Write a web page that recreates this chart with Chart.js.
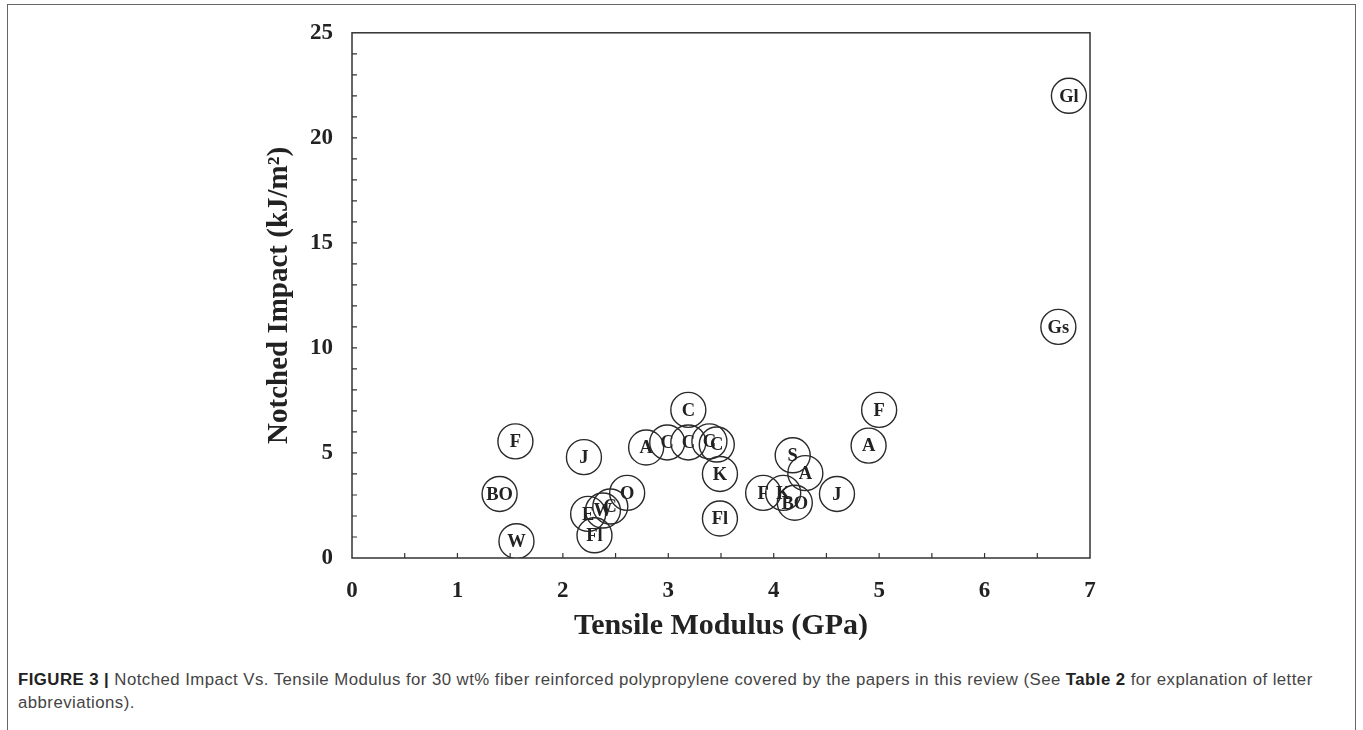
<!DOCTYPE html>
<html>
<head>
<meta charset="utf-8">
<script src="https://cdn.jsdelivr.net/npm/chart.js@4/dist/chart.umd.min.js"></script>
<style>
  html, body { margin: 0; padding: 0; background: #fff; width: 1363px; height: 730px; overflow: hidden; }
  #frame { position: absolute; left: 7px; top: 4px; width: 1347px; height: 760px; border: 1px solid #666; }
  #wrap { position: absolute; left: 0; top: 0; width: 1363px; height: 660px; }
  #caption { position: absolute; left: 18px; top: 668px; width: 1340px; font-family: "Liberation Sans", Arial, sans-serif;
             font-size: 16.8px; letter-spacing: 0.45px; line-height: 23px; color: #444; white-space: nowrap; }
  #caption b { color: #222; }
</style>
</head>
<body>
<div id="frame"></div>
<div id="wrap"><canvas id="impactChart"></canvas></div>
<div id="caption"><b>FIGURE 3 |</b> Notched Impact Vs. Tensile Modulus for 30 wt% fiber reinforced polypropylene covered by the papers in this review (See <b>Table 2</b> for explanation of letter<br>abbreviations).</div>
<script>
// fiber codes, as printed inside the circles
var labels  = ['Gl', 'Gs', 'F', 'A', 'J', 'S', 'A', 'F', 'K', 'BO', 'K', 'Fl', 'C', 'A', 'C', 'C', 'C', 'C',
               'O', 'C', 'W', 'E', 'Fl', 'J', 'F', 'BO', 'W'];
// tensile modulus (GPa)
var modulus = [6.8, 6.7, 5.0, 4.9, 4.6, 4.18, 4.3, 3.9, 4.09, 4.2, 3.49, 3.49, 3.19, 2.79, 2.99, 3.19, 3.39, 3.46,
               2.61, 2.45, 2.38, 2.24, 2.30, 2.2, 1.55, 1.40, 1.56];
// notched impact (kJ/m2)
var impact  = [22.0, 11.0, 7.05, 5.35, 3.05, 4.89, 4.04, 3.1, 3.1, 2.63, 4.0, 1.88, 7.05, 5.26, 5.5, 5.5, 5.55, 5.4,
               3.1, 2.45, 2.26, 2.1, 1.08, 4.8, 5.55, 3.05, 0.8];

var xTicks = [0, 1, 2, 3, 4, 5, 6, 7];
var yTicks = [0, 5, 10, 15, 20, 25];

var serif = '"Liberation Serif", "Times New Roman", serif';

var points = modulus.map(function (m, i) { return {x: m, y: impact[i]}; });

// circle letters, plot box and inward tick marks
var decorations = {
   id: 'decorations',
   afterDatasetsDraw: function (chart) {
      var ctx = chart.ctx;
      var area = chart.chartArea;
      var xs = chart.scales.x;
      var ys = chart.scales.y;
      ctx.save();
      ctx.strokeStyle = '#333';
      ctx.lineWidth = 1.5;
      ctx.strokeRect(area.left, area.top, area.right - area.left, area.bottom - area.top);
      ctx.lineWidth = 1.2;
      ctx.beginPath();
      for (var v = 0.5; v < 7; v += 0.5) {
         var px = xs.getPixelForValue(v);
         ctx.moveTo(px, area.bottom);
         ctx.lineTo(px, area.bottom - 5);
      }
      for (var w = 1; w < 25; w += 1) {
         var py = ys.getPixelForValue(w);
         ctx.moveTo(area.left, py);
         ctx.lineTo(area.left + 5, py);
      }
      ctx.stroke();

      ctx.fillStyle = '#222';
      ctx.font = 'bold 18.5px ' + serif;
      ctx.textAlign = 'center';
      ctx.textBaseline = 'middle';
      chart.getDatasetMeta(0).data.forEach(function (el, i) {
         ctx.fillText(labels[i], el.x, el.y + 1);
      });
      ctx.restore();
   }
};

new Chart(document.getElementById('impactChart'), {
   type: 'scatter',
   data: {
      datasets: [{
         data: points,
         pointRadius: 17.5,
         pointHoverRadius: 17.5,
         pointBorderWidth: 1.4,
         pointBorderColor: '#2a2a2a',
         pointBackgroundColor: 'rgba(0,0,0,0)'
      }]
   },
   options: {
      responsive: true,
      maintainAspectRatio: false,
      animation: false,
      layout: { padding: { left: 258, top: 26, right: 273, bottom: 12 } },
      plugins: { legend: { display: false }, tooltip: { enabled: false } },
      scales: {
         x: {
            type: 'linear',
            min: 0,
            max: 7,
            afterFit: function (scale) { scale.height = 90; },
            afterBuildTicks: function (scale) { scale.ticks = xTicks.map(function (v) { return {value: v}; }); },
            grid: { display: false, drawTicks: false },
            border: { display: false },
            ticks: { color: '#222', padding: 19, font: { family: serif, size: 23, weight: 'bold' } },
            title: { display: true, text: 'Tensile Modulus (GPa)', color: '#222',
                     font: { family: serif, size: 30, weight: 'bold' } }
         },
         y: {
            type: 'linear',
            min: 0,
            max: 25,
            afterFit: function (scale) { scale.width = 94; },
            afterBuildTicks: function (scale) { scale.ticks = yTicks.map(function (v) { return {value: v}; }); },
            grid: { display: false, drawTicks: false },
            border: { display: false },
            ticks: { color: '#222', padding: 19, font: { family: serif, size: 23, weight: 'bold' } },
            title: { display: true, text: 'Notched Impact (kJ/m\u00B2)', color: '#222',
                     font: { family: serif, size: 29, weight: 'bold' } }
         }
      }
   },
   plugins: [decorations]
});
</script>
</body>
</html>
